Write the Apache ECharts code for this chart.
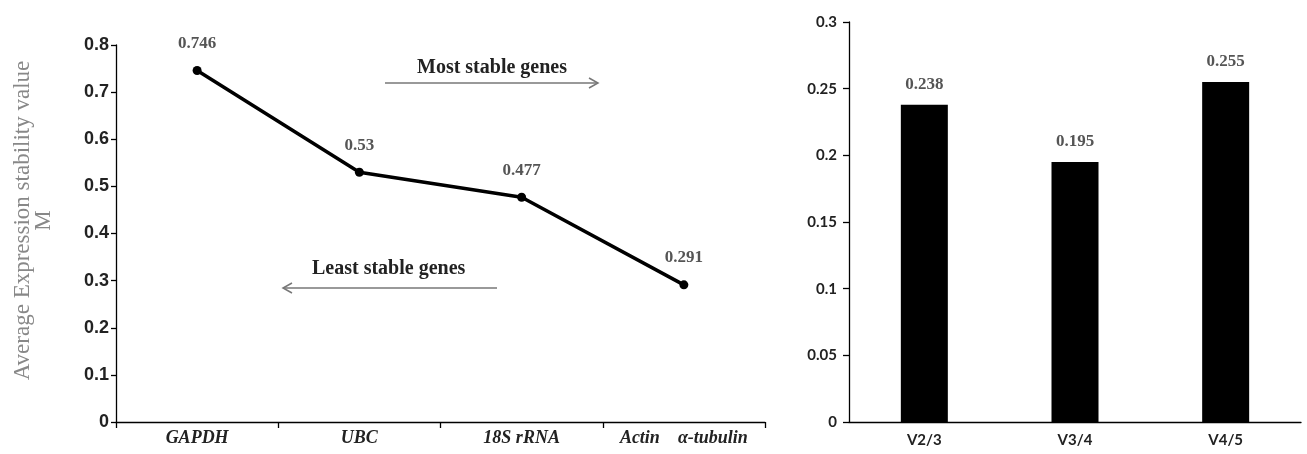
<!DOCTYPE html>
<html>
<head>
<meta charset="utf-8">
<script src="https://cdn.jsdelivr.net/npm/echarts@6/dist/echarts.min.js"></script>
<style>html,body{margin:0;padding:0;background:#fff}#c{width:1307px;height:454px}</style>
</head>
<body>
<div id="c"></div>
<script>
const geneCategories = ['GAPDH', 'UBC', '18S rRNA', 'Actin    \u03b1-tubulin'];
const stabilityM = [0.746, 0.53, 0.477, 0.291];
const pairCategories = ['V2/3', 'V3/4', 'V4/5'];
const pairValues = [0.238, 0.195, 0.255];

const chart = echarts.init(document.getElementById('c'));
const serif = '"Liberation Serif", "DejaVu Serif", serif';
const axisLine = {show: true, lineStyle: {color: '#000', width: 1.3}};

chart.setOption({
  animation: false,
  backgroundColor: '#fff',
  grid: [
    {left: 116, top: 45, width: 649, height: 377, containLabel: false, outerBoundsMode: 'none'},
    {left: 849, top: 22, width: 452, height: 400, containLabel: false, outerBoundsMode: 'none'}
  ],
  xAxis: [
    {
      type: 'category', gridIndex: 0, data: geneCategories, boundaryGap: true,
      axisLine: axisLine,
      axisTick: {show: true, interval: 0, length: 6, lineStyle: {color: '#000', width: 1.3}},
      axisLabel: {interval: 0, hideOverlap: false, fontFamily: serif, fontStyle: 'italic', fontWeight: 'bold', fontSize: 18, color: '#222', margin: 7}
    },
    {
      type: 'category', gridIndex: 1, data: pairCategories, boundaryGap: true,
      axisLine: axisLine,
      axisTick: {show: false},
      axisLabel: {interval: 0, fontFamily: 'Lato, "Open Sans", sans-serif', fontWeight: 'bold', fontSize: 15, color: '#222', margin: 11}
    }
  ],
  yAxis: [
    {
      type: 'value', gridIndex: 0, min: 0, max: 0.8, interval: 0.1,
      name: 'Average Expression stability value\nM',
      nameLocation: 'middle', nameGap: 62, nameRotate: 90,
      nameTextStyle: {fontFamily: serif, fontSize: 23, color: '#888', lineHeight: 21, padding: [0, 0, 0, 26]},
      axisLine: axisLine,
      axisTick: {show: true, length: 5, lineStyle: {color: '#000', width: 1.3}},
      axisLabel: {fontFamily: '"Liberation Sans", Arial, sans-serif', fontWeight: 'bold', fontSize: 18, color: '#222', margin: 7},
      splitLine: {show: false}
    },
    {
      type: 'value', gridIndex: 1, min: 0, max: 0.3, interval: 0.05,
      axisLine: axisLine,
      axisTick: {show: true, length: 6, lineStyle: {color: '#000', width: 1.3}},
      axisLabel: {fontFamily: 'Lato, "Open Sans", sans-serif', fontWeight: 'bold', fontSize: 15, color: '#222', margin: 12},
      splitLine: {show: false}
    }
  ],
  series: [
    {
      type: 'line', xAxisIndex: 0, yAxisIndex: 0, data: stabilityM,
      symbol: 'circle', symbolSize: 9,
      lineStyle: {color: '#000', width: 3.5},
      itemStyle: {color: '#000'},
      label: {show: true, position: 'top', distance: 14, fontFamily: serif, fontWeight: 'bold', fontSize: 17, color: '#555'}
    },
    {
      type: 'bar', xAxisIndex: 1, yAxisIndex: 1, data: pairValues,
      barWidth: 47,
      itemStyle: {color: '#000'},
      label: {show: true, position: 'top', distance: 12, fontFamily: serif, fontWeight: 'bold', fontSize: 17, color: '#555'}
    }
  ],
  graphic: [
    {type: 'text', left: 417, top: 58, style: {text: 'Most stable genes', font: 'bold 20px ' + serif, fill: '#222'}},
    {type: 'line', shape: {x1: 385, y1: 83, x2: 598, y2: 83}, style: {stroke: '#777', lineWidth: 1.5}},
    {type: 'polyline', shape: {points: [[589, 78], [598, 83], [589, 88]]}, style: {stroke: '#777', lineWidth: 1.5, fill: null}},
    {type: 'text', left: 312, top: 259, style: {text: 'Least stable genes', font: 'bold 20px ' + serif, fill: '#222'}},
    {type: 'line', shape: {x1: 283, y1: 288, x2: 497, y2: 288}, style: {stroke: '#777', lineWidth: 1.5}},
    {type: 'polyline', shape: {points: [[292, 283], [283, 288], [292, 293]]}, style: {stroke: '#777', lineWidth: 1.5, fill: null}}
  ]
});
</script>
</body>
</html>
